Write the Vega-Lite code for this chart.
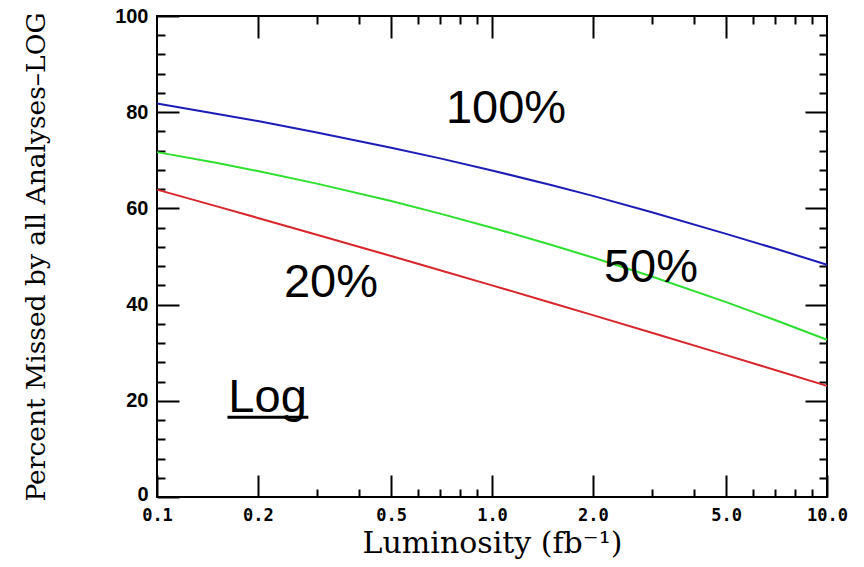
{
  "$schema": "https://vega.github.io/schema/vega-lite/v6.json",
  "width": 670,
  "height": 481,
  "autosize": {"type": "none"},
  "padding": {"left": 157, "top": 16, "right": 37, "bottom": 70},
  "background": "white",
  "config": {
    "view": {"stroke": "black", "strokeWidth": 2},
    "axis": {"domain": false, "grid": false, "tickColor": "black", "tickWidth": 2, "labelColor": "black", "titleColor": "black"}
  },
  "datasets": {
    "curves": [
      {"lum": 0.1, "pct": 81.8, "series": "100%"},
      {"lum": 0.15, "pct": 79.7, "series": "100%"},
      {"lum": 0.2, "pct": 78.15, "series": "100%"},
      {"lum": 0.3, "pct": 75.8, "series": "100%"},
      {"lum": 0.5, "pct": 72.6, "series": "100%"},
      {"lum": 0.7, "pct": 70.4, "series": "100%"},
      {"lum": 1.0, "pct": 67.9, "series": "100%"},
      {"lum": 1.5, "pct": 64.85, "series": "100%"},
      {"lum": 2.0, "pct": 62.6, "series": "100%"},
      {"lum": 3.0, "pct": 59.2, "series": "100%"},
      {"lum": 5.0, "pct": 54.7, "series": "100%"},
      {"lum": 7.0, "pct": 51.65, "series": "100%"},
      {"lum": 10.0, "pct": 48.3, "series": "100%"},
      {"lum": 0.1, "pct": 71.7, "series": "50%"},
      {"lum": 0.15, "pct": 69.49, "series": "50%"},
      {"lum": 0.2, "pct": 67.77, "series": "50%"},
      {"lum": 0.3, "pct": 65.15, "series": "50%"},
      {"lum": 0.5, "pct": 61.52, "series": "50%"},
      {"lum": 0.7, "pct": 58.92, "series": "50%"},
      {"lum": 1.0, "pct": 55.99, "series": "50%"},
      {"lum": 1.5, "pct": 52.44, "series": "50%"},
      {"lum": 2.0, "pct": 49.78, "series": "50%"},
      {"lum": 3.0, "pct": 45.83, "series": "50%"},
      {"lum": 5.0, "pct": 40.51, "series": "50%"},
      {"lum": 7.0, "pct": 36.8, "series": "50%"},
      {"lum": 10.0, "pct": 32.7, "series": "50%"},
      {"lum": 0.1, "pct": 63.9, "series": "20%"},
      {"lum": 0.15, "pct": 60.47, "series": "20%"},
      {"lum": 0.2, "pct": 58.02, "series": "20%"},
      {"lum": 0.3, "pct": 54.53, "series": "20%"},
      {"lum": 0.5, "pct": 50.09, "series": "20%"},
      {"lum": 0.7, "pct": 47.15, "series": "20%"},
      {"lum": 1.0, "pct": 44.0, "series": "20%"},
      {"lum": 1.5, "pct": 40.39, "series": "20%"},
      {"lum": 2.0, "pct": 37.81, "series": "20%"},
      {"lum": 3.0, "pct": 34.16, "series": "20%"},
      {"lum": 5.0, "pct": 29.5, "series": "20%"},
      {"lum": 7.0, "pct": 26.4, "series": "20%"},
      {"lum": 10.0, "pct": 23.1, "series": "20%"}
    ],
    "notes": [
      {"lum": 1.101, "pct": 77.84, "label": "100%"},
      {"lum": 2.983, "pct": 44.75, "label": "50%"},
      {"lum": 0.3307, "pct": 41.62, "label": "20%"},
      {"lum": 0.2138, "pct": 17.7, "label": "Log"}
    ],
    "underline": [
      {"lum": 0.1623, "lum2": 0.283, "pct": 16.6}
    ]
  },
  "resolve": {"axis": {"x": "independent", "y": "independent"}},
  "layer": [
    {
      "data": {"name": "curves"},
      "mark": {"type": "line", "strokeWidth": 2},
      "encoding": {
        "x": {
          "field": "lum", "type": "quantitative",
          "scale": {"type": "log", "domain": [0.1, 10], "nice": false},
          "axis": {
            "orient": "bottom", "values": [0.1, 0.2, 0.5, 1, 2, 5, 10], "format": ".1f",
            "tickSize": -22, "labelPadding": 32, "labelFlush": false, "labelOverlap": false,
            "labelFont": "DejaVu Sans Mono", "labelFontWeight": "bold", "labelFontSize": 17,
            "title": "Luminosity (fb⁻¹)", "titleFont": "DejaVu Serif", "titleFontWeight": "normal",
            "titleFontSize": 30, "titlePadding": 5
          }
        },
        "y": {
          "field": "pct", "type": "quantitative",
          "scale": {"domain": [0, 100], "nice": false, "zero": false},
          "axis": {
            "orient": "left", "values": [0, 20, 40, 60, 80, 100],
            "tickSize": -22, "labelPadding": 31, "labelFlush": false, "labelOverlap": false,
            "labelOffset": {"condition": {"test": "datum.value == 0", "value": -3}, "value": 0},
            "labelFont": "Liberation Sans", "labelFontWeight": "bold", "labelFontSize": 20,
            "title": "Percent Missed by all Analyses–LOG", "titleFont": "DejaVu Serif", "titleFontWeight": "normal",
            "titleFontSize": 26.5, "titlePadding": 64
          }
        },
        "color": {
          "field": "series", "type": "nominal",
          "scale": {"domain": ["100%", "50%", "20%"], "range": ["#1c1cb8", "#2ee02e", "#d8262c"]},
          "legend": null
        }
      }
    },
    {
      "data": {"name": "curves"},
      "mark": {"type": "line", "strokeOpacity": 0},
      "encoding": {
        "x": {
          "field": "lum", "type": "quantitative",
          "axis": {"orient": "bottom", "values": [0.3, 0.4, 0.6, 0.7, 0.8, 0.9, 3, 4, 6, 7, 8, 9], "tickSize": -8, "labels": false, "title": null}
        },
        "y": {
          "field": "pct", "type": "quantitative",
          "axis": {"orient": "left", "values": [4, 8, 12, 16, 24, 28, 32, 36, 44, 48, 52, 56, 64, 68, 72, 76, 84, 88, 92, 96], "tickSize": -8, "labels": false, "title": null}
        },
        "detail": {"field": "series"}
      }
    },
    {
      "data": {"name": "curves"},
      "mark": {"type": "line", "strokeOpacity": 0},
      "encoding": {
        "x": {
          "field": "lum", "type": "quantitative",
          "axis": {"orient": "top", "values": [0.2, 0.5, 1, 2, 5], "tickSize": -22, "labels": false, "title": null}
        },
        "y": {
          "field": "pct", "type": "quantitative",
          "axis": {"orient": "right", "values": [20, 40, 60, 80], "tickSize": -22, "labels": false, "title": null}
        },
        "detail": {"field": "series"}
      }
    },
    {
      "data": {"name": "curves"},
      "mark": {"type": "line", "strokeOpacity": 0},
      "encoding": {
        "x": {
          "field": "lum", "type": "quantitative",
          "axis": {"orient": "top", "values": [0.3, 0.4, 0.6, 0.7, 0.8, 0.9, 3, 4, 6, 7, 8, 9], "tickSize": -8, "labels": false, "title": null}
        },
        "y": {
          "field": "pct", "type": "quantitative",
          "axis": {"orient": "right", "values": [4, 8, 12, 16, 24, 28, 32, 36, 44, 48, 52, 56, 64, 68, 72, 76, 84, 88, 92, 96], "tickSize": -8, "labels": false, "title": null}
        },
        "detail": {"field": "series"}
      }
    },
    {
      "data": {"name": "notes"},
      "mark": {"type": "text", "font": "Liberation Sans", "fontSize": 47, "align": "center", "baseline": "alphabetic", "color": "black"},
      "encoding": {
        "x": {"field": "lum", "type": "quantitative", "axis": null},
        "y": {"field": "pct", "type": "quantitative", "axis": null},
        "text": {"field": "label"}
      }
    },
    {
      "data": {"name": "underline"},
      "mark": {"type": "rule", "strokeWidth": 3, "color": "black"},
      "encoding": {
        "x": {"field": "lum", "type": "quantitative", "axis": null},
        "x2": {"field": "lum2"},
        "y": {"field": "pct", "type": "quantitative", "axis": null}
      }
    }
  ]
}
